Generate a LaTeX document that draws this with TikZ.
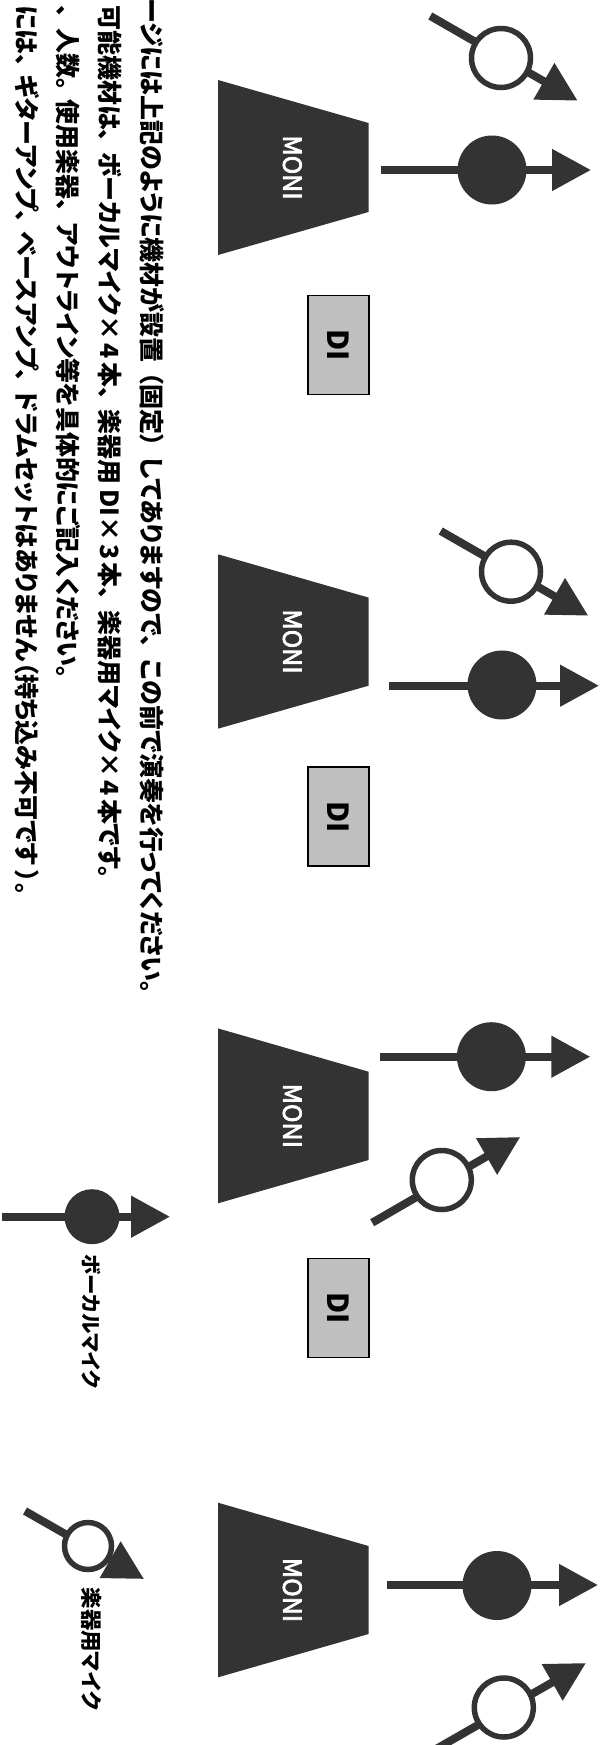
\documentclass[tikz,border=0pt]{standalone}
\usepackage{fontspec}
\usepackage{xcolor}
\usetikzlibrary{arrows.meta}
\newfontfamily\jpfont[RawFeature={+palt}]{Noto Sans CJK JP}
\newfontfamily\jpmedium[FakeBold=3]{Noto Sans CJK JP}
\newcommand{\jpcomma}{、\kern10pt}
\newcommand{\jpstop}{。\kern9pt}
\newcommand{\jptimes}[1]{×\kern3pt #1\kern3pt}
\definecolor{micdark}{HTML}{333333}
\definecolor{digray}{HTML}{BFBFBF}
\tikzset{
  micline/.style={draw=micdark,line width=8pt,-{Triangle[length=39pt,width=40pt]}},
  micsolid/.style={circle,fill=micdark,inner sep=0pt,minimum size=#1},
  micopen/.style={circle,draw=micdark,line width=5.5pt,fill=white,inner sep=0pt,minimum size=#1},
  monibody/.style={fill=micdark},
  monitext/.style={rotate=-90,text=white,font=\jpmedium\fontsize{25}{25}\selectfont},
  dibox/.style={draw=black,line width=1.8pt,fill=digray,minimum width=61pt,minimum height=99pt},
  ditext/.style={rotate=-90,font=\jpfont\bfseries\fontsize{29}{29}\selectfont},
  bodytext/.style={rotate=-90,anchor=west,font=\jpfont\bfseries\fontsize{25}{25}\selectfont},
  keytext/.style={rotate=-90,anchor=west,font=\jpfont\bfseries\fontsize{20.5}{20.5}\selectfont},
}
\begin{document}
\begin{tikzpicture}[x=1pt,y=-1pt]
  \useasboundingbox (0,0) rectangle (602,1745);
  % lines of text
  \node[bodytext] (line1) at (152,-5) {ージには上記のように機材が設置\kern10pt（固定）\kern10ptしてありますので、\kern12pt この前で演奏を行ってください。};
  \node[bodytext] (line2) at (110,1.5) {可能機材は\jpcomma ボーカルマイク\jptimes{4}本\jpcomma 楽器用\kern5pt DI\jptimes{3}本\jpcomma 楽器用マイク\jptimes{4}本です。};
  \node[bodytext] (line3) at (68,2) {、\kern10pt 人数\jpstop 使用楽器\jpcomma アウトライン等を具体的にご記入ください。};
  \node[bodytext] (line4) at (27,2) {には、\kern8pt ギターアンプ、\kern8pt ベースアンプ、\kern9pt ドラムセットはありません（持ち込み不可です\kern5pt）。};
  % monitors
  \fill[monibody] (218,80) -- (368.6,123) -- (368.6,212) -- (218,255) -- cycle;
  \node[monitext] (moni1) at (292.3,167.5) {MONI};
  \fill[monibody] (218,554.3) -- (368.6,597.6) -- (368.6,685.7) -- (218,728.7) -- cycle;
  \node[monitext] (moni2) at (292.3,641.5) {MONI};
  \fill[monibody] (218,1028.4) -- (368.6,1071.7) -- (368.6,1160) -- (218,1203.3) -- cycle;
  \node[monitext] (moni3) at (292.3,1115.8) {MONI};
  \fill[monibody] (218,1502.7) -- (368.6,1546) -- (368.6,1634) -- (218,1677.3) -- cycle;
  \node[monitext] (moni4) at (292.3,1590) {MONI};
  % DI boxes
  \node[dibox] (di1) at (338.6,345) {};
  \node[ditext] at (di1) {DI};
  \node[dibox] (di2) at (338.6,816.7) {};
  \node[ditext] at (di2) {DI};
  \node[dibox] (di3) at (338.6,1308) {};
  \node[ditext] at (di3) {DI};
  % vocal mics
  \coordinate (vs1) at (381,170);
  \coordinate (vt1) at (591,170);
  \draw[micline] (vs1) -- (vt1);
  \node[micsolid=69pt] (v1) at (492,170) {};
  \coordinate (vs2) at (389.4,685.7);
  \coordinate (vt2) at (599,685.7);
  \draw[micline] (vs2) -- (vt2);
  \node[micsolid=69pt] (v2) at (502,685) {};
  \coordinate (vs3) at (379.5,1056.7);
  \coordinate (vt3) at (590.3,1056.7);
  \draw[micline] (vs3) -- (vt3);
  \node[micsolid=69pt] (v3) at (491.4,1056.7) {};
  \coordinate (vs4) at (386.8,1585);
  \coordinate (vt4) at (598,1585);
  \draw[micline] (vs4) -- (vt4);
  \node[micsolid=69pt] (v4) at (497,1585.5) {};
  % instrument mics
  \coordinate (is1) at (430.3,16);
  \coordinate (it1) at (577.7,100.7);
  \draw[micline] (is1) -- (it1);
  \node[micopen=59pt] (i1) at (501,58) {};
  \coordinate (is2) at (440.7,531);
  \coordinate (it2) at (588.3,615.7);
  \draw[micline] (is2) -- (it2);
  \node[micopen=59pt] (i2) at (511,571.7) {};
  \coordinate (is3) at (372.2,1222.7);
  \coordinate (it3) at (520.3,1137);
  \draw[micline] (is3) -- (it3);
  \node[micopen=59pt] (i3) at (441.8,1180) {};
  \coordinate (is4) at (434.3,1750);
  \coordinate (it4) at (586,1663);
  \draw[micline] (is4) -- (it4);
  \node[micopen=59pt] (i4) at (503.8,1707.5) {};
  % key
  \coordinate (ks1) at (2,1216.7);
  \coordinate (kt1) at (170,1216.7);
  \draw[micline] (ks1) -- (kt1);
  \node[micsolid=55pt] (k1) at (92,1216.7) {};
  \node[keytext] (vocalkey) at (91.5,1251) {ボーカルマイク};
  \coordinate (ks2) at (25,1511);
  \coordinate (kt2) at (144,1579);
  \draw[micline] (ks2) -- (kt2);
  \node[micopen=47pt] (k2) at (88,1546) {};
  \node[keytext,font=\jpfont\bfseries\fontsize{21.5}{21.5}\selectfont] (instkey) at (91.5,1584) {楽器用マイク};
\end{tikzpicture}
\end{document}
